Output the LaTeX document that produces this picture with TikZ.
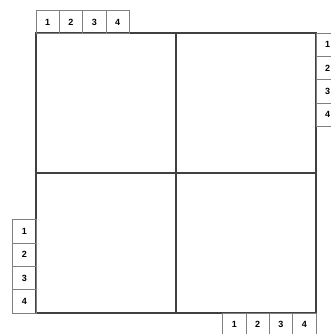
\documentclass[tikz,border=0pt]{standalone}
\usepackage{fontspec}
\setmainfont{Liberation Sans}
\usetikzlibrary{positioning}
\begin{document}
\begin{tikzpicture}[x=1pt, y=-1pt, every node/.style={font=\bfseries\fontsize{9}{10}\selectfont},
	cell/.style={draw=black!75, line width=1.3pt, minimum size=140pt, inner sep=0pt, outer sep=0pt},
	tab/.style={draw=black!50, line width=0.7pt, minimum size=23.33pt, inner sep=0pt, outer sep=0pt}]
	\useasboundingbox (0,0) rectangle (330,334);
	% quadrants
	\node[cell] (q11) at (106,103) {};
	\node[cell] (q12) at (246,103) {};
	\node[cell] (q21) at (106,243) {};
	\node[cell] (q22) at (246,243) {};
	\draw[black!75, line width=1.5pt] (q11.north west) rectangle (q22.south east);
	% tabs
	\foreach \i in {1,...,4} {
		\node[tab] (top\i) at (24.33+23.33*\i,22) {\i};
		\node[tab] (right\i) at (327.67,21.33+23.33*\i) {\i};
		\node[tab] (left\i) at (24.33,208+23.33*\i) {\i};
		\node[tab] (bot\i) at (211+23.33*\i,324.67) {\i};
	}
\end{tikzpicture}
\end{document}
